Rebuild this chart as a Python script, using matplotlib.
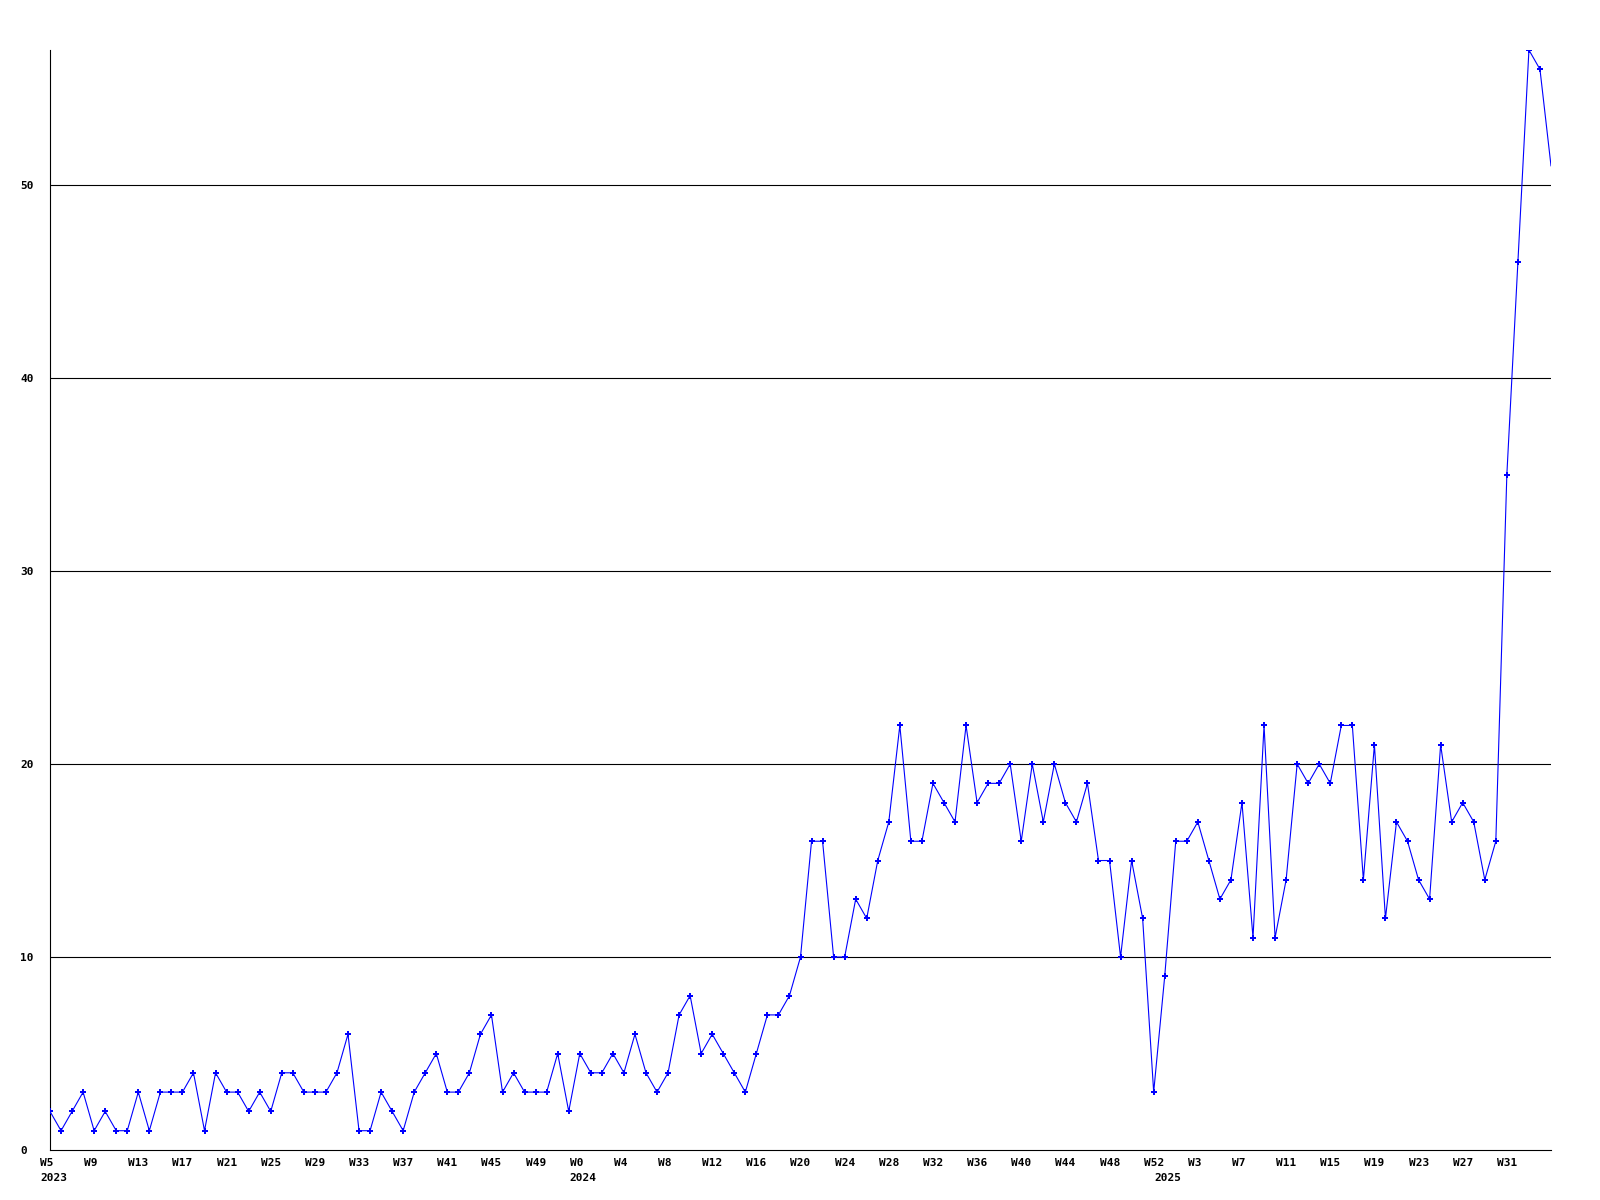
import numpy as np
import matplotlib
matplotlib.use("Agg")
import matplotlib.pyplot as plt
from matplotlib.transforms import ScaledTranslation

# weekly counts, one list per year
semanas2023 = list(range(5, 53))
valores2023 = [2, 1, 2, 3, 1, 2, 1, 1, 3, 1, 3, 3, 3, 4, 1, 4, 3, 3, 2, 3, 2, 4, 4, 3,
               3, 3, 4, 6, 1, 1, 3, 2, 1, 3, 4, 5, 3, 3, 4, 6, 7, 3, 4, 3, 3, 3, 5, 2]
semanas2024 = list(range(0, 53))
valores2024 = [5, 4, 4, 5, 4, 6, 4, 3, 4, 7, 8, 5, 6, 5, 4, 3, 5, 7, 7, 8,
               10, 16, 16, 10, 10, 13, 12, 15, 17, 22, 16, 16, 19, 18, 17, 22, 18, 19, 19,
               20, 16, 20, 17, 20, 18, 17, 19, 15, 15, 10, 15, 12, 3]
semanas2025 = list(range(0, 36))
valores2025 = [9, 16, 16, 17, 15, 13, 14, 18, 11, 22, 11, 14, 20, 19, 20, 19, 22, 22, 14,
               21, 12, 17, 16, 14, 13, 21, 17, 18, 17, 14, 16, 35, 46, 57, 56, 51]
anos = ["2023", "2024", "2025"]
yticks = [0, 10, 20, 30, 40, 50]

semanas = semanas2023 + semanas2024 + semanas2025
valores = valores2023 + valores2024 + valores2025
xd = np.arange(len(valores))
inicioAno = [0, len(semanas2023), len(semanas2023) + len(semanas2024)]

fig = plt.figure(figsize=(16, 12), dpi=100)
ax = fig.add_axes([50 / 1600, 50 / 1200, 1501 / 1600, 1100 / 1200])

fonte = dict(family="DejaVu Sans Mono", weight="bold", size=8)

# horizontal guide lines
for v in yticks[1:]:
    ax.axhline(v, color="black", linewidth=0.8, zorder=1)

# the series, last (partial) week has no marker
ax.plot(xd, valores, color="#0000ff", linewidth=0.8, marker="P", markersize=3.8,
        markeredgewidth=0, markevery=list(range(len(valores) - 1)), zorder=3)

ax.set_xlim(0, len(valores) - 1)
ax.set_ylim(0, max(valores))

for lado in ["top", "right"]:
    ax.spines[lado].set_visible(False)
for lado in ["left", "bottom"]:
    ax.spines[lado].set_linewidth(0.8)
    ax.spines[lado].set_color("black")

# y ticks, labels left aligned near the figure edge
ax.set_yticks(yticks)
ax.set_yticklabels([str(v) for v in yticks], fontdict=fonte, ha="left")
ax.tick_params(axis="y", length=0, pad=21.6)

# x ticks every 4 weeks
posx = list(range(0, len(valores) - 1, 4))
ax.set_xticks(posx)
ax.set_xticklabels(["W%d" % semanas[i] for i in posx], fontdict=fonte, ha="left")
ax.tick_params(axis="x", length=0, pad=6)
desloca = ScaledTranslation(-10 / 100, 0, fig.dpi_scale_trans)
for lbl in ax.get_xticklabels():
    lbl.set_transform(lbl.get_transform() + desloca)

# year under the first week of each year
trans = ax.get_xaxis_transform() + desloca
for i, ano in zip(inicioAno, anos):
    ax.text(i, -23 / 1100, ano, transform=trans, ha="left", va="top", **fonte)

fig.savefig("out.png", dpi=100, facecolor="white")
